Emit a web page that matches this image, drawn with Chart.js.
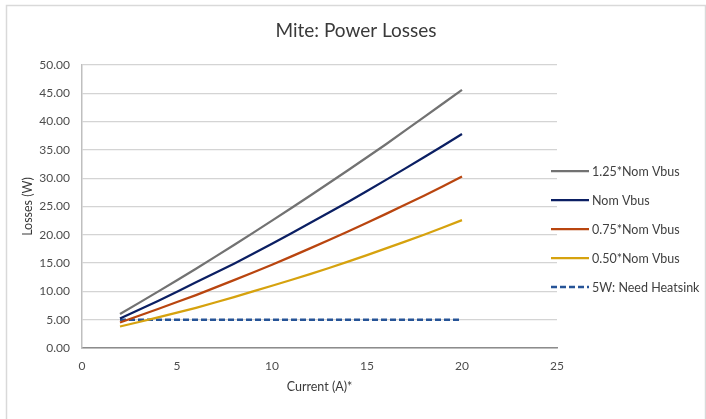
<!DOCTYPE html>
<html>
<head>
<meta charset="utf-8">
<title>Mite: Power Losses</title>
<script src="https://cdn.jsdelivr.net/npm/chart.js@4.4.1/dist/chart.umd.min.js"></script>
<style>
    html, body { margin: 0; padding: 0; background: #ffffff; }
    #chart-wrap { width: 706px; height: 419px; }
</style>
</head>
<body>
<div id="chart-wrap"><canvas id="losses-chart" width="706" height="419"></canvas></div>
<script>
// Data
const currents = [2, 4, 6, 8, 10, 12, 14, 16, 18, 20];
const lossHighVbus = [6.0, 9.96, 14.0, 18.2, 22.5, 26.9, 31.4, 36.0, 40.8, 45.6];
const lossNomVbus = [5.2, 8.3, 11.6, 14.9, 18.4, 22.1, 25.8, 29.7, 33.7, 37.8];
const lossThreeQuarterVbus = [4.5, 6.9, 9.35, 12.0, 14.7, 17.6, 20.6, 23.7, 26.9, 30.3];
const lossHalfVbus = [3.8, 5.4, 7.1, 9.0, 11.0, 13.05, 15.25, 17.6, 20.0, 22.6];
const heatsinkLimit = [5, 5, 5, 5, 5, 5, 5, 5, 5, 5];

const chartTitle = 'Mite: Power Losses';
const seriesNames = ['1.25*Nom Vbus', 'Nom Vbus', '0.75*Nom Vbus', '0.50*Nom Vbus', '5W: Need Heatsink'];
const xTicks = [0, 5, 10, 15, 20, 25];
const yTicks = [0, 5, 10, 15, 20, 25, 30, 35, 40, 45, 50];

const FONT = 'Lato, "Open Sans", sans-serif';

function toPoints(values) {
    return currents.map((x, i) => ({ x: x, y: values[i] }));
}

// Excel-like frame around the whole chart
const framePlugin = {
    id: 'frame',
    beforeDraw(chart) {
        const ctx = chart.ctx;
        ctx.save();
        ctx.strokeStyle = '#d9d9d9';
        ctx.lineWidth = 1.5;
        ctx.strokeRect(6.5, 5.5, 699, 440);
        ctx.restore();
    }
};

// Title centred on the whole frame (the built-in title would centre on the padded area)
// and legend at the right, overlapping the plot edge a little like the original
const decorations = {
    id: 'decorations',
    afterDraw(chart) {
        const ctx = chart.ctx;
        ctx.save();
        ctx.fillStyle = '#3a3a3a';
        ctx.font = '19px ' + FONT;
        ctx.textAlign = 'center';
        ctx.textBaseline = 'middle';
        ctx.fillText(chartTitle, 356, 31);

        const startY = 171;
        const stepY = 29;
        ctx.font = '12.5px ' + FONT;
        ctx.textAlign = 'left';
        ctx.fillStyle = '#404040';
        chart.data.datasets.forEach((ds, i) => {
            const y = startY + i * stepY;
            ctx.beginPath();
            ctx.strokeStyle = ds.borderColor;
            ctx.lineWidth = ds.borderWidth;
            ctx.setLineDash(ds.borderDash || []);
            ctx.moveTo(551, y);
            ctx.lineTo(589, y);
            ctx.stroke();
            ctx.setLineDash([]);
            ctx.fillText(ds.label, 592, y + 1);
        });
        ctx.restore();
    }
};

const lineStyle = (color, width) => ({
    borderColor: color,
    backgroundColor: color,
    borderWidth: width,
    pointRadius: 0,
    tension: 0.2,
    fill: false
});

const config = {
    type: 'line',
    data: {
        datasets: [
            { label: seriesNames[0], data: toPoints(lossHighVbus), ...lineStyle('#727272', 2.25) },
            { label: seriesNames[1], data: toPoints(lossNomVbus), ...lineStyle('#0b1f63', 2.25) },
            { label: seriesNames[2], data: toPoints(lossThreeQuarterVbus), ...lineStyle('#b9450f', 2.25) },
            { label: seriesNames[3], data: toPoints(lossHalfVbus), ...lineStyle('#d6a20e', 2.25) },
            { label: seriesNames[4], data: toPoints(heatsinkLimit), ...lineStyle('#265497', 2.5), borderDash: [6, 3], tension: 0 }
        ]
    },
    options: {
        responsive: false,
        animation: false,
        devicePixelRatio: 1,
        layout: { padding: { left: 6, right: 149, top: 65, bottom: 0 } },
        plugins: {
            legend: { display: false },
            tooltip: { enabled: false },
            title: { display: false }
        },
        scales: {
            x: {
                type: 'linear',
                min: 0,
                max: 25,
                afterFit: (scale) => { scale.height = 71; },
                afterBuildTicks: (scale) => { scale.ticks = xTicks.map(v => ({ value: v })); },
                grid: { display: false, drawTicks: false },
                border: { display: true, color: '#8c8c8c', width: 1.5 },
                ticks: {
                    padding: 11,
                    color: '#4d4d4d',
                    font: { family: FONT, size: 12 },
                    maxRotation: 0
                },
                title: {
                    display: true,
                    text: 'Current (A)*',
                    color: '#3a3a3a',
                    font: { family: FONT, size: 12.5 },
                    padding: { top: 0, bottom: 25 }
                }
            },
            y: {
                min: 0,
                max: 50,
                afterFit: (scale) => { scale.width = 76; },
                afterBuildTicks: (scale) => { scale.ticks = yTicks.map(v => ({ value: v })); },
                grid: { color: '#d4d4d4', lineWidth: 1.25, drawTicks: false },
                border: { display: true, color: '#bfbfbf', width: 1.5 },
                ticks: {
                    padding: 12,
                    color: '#4d4d4d',
                    font: { family: FONT, size: 12 },
                    callback: (v) => Number(v).toFixed(2)
                },
                title: {
                    display: true,
                    text: 'Losses (W)',
                    color: '#3a3a3a',
                    font: { family: FONT, size: 12.5 },
                    padding: { top: 14, bottom: 0 }
                }
            }
        }
    },
    plugins: [framePlugin, decorations]
};

const ctx = document.getElementById('losses-chart').getContext('2d');
const lossesChart = new Chart(ctx, config);
</script>
</body>
</html>
